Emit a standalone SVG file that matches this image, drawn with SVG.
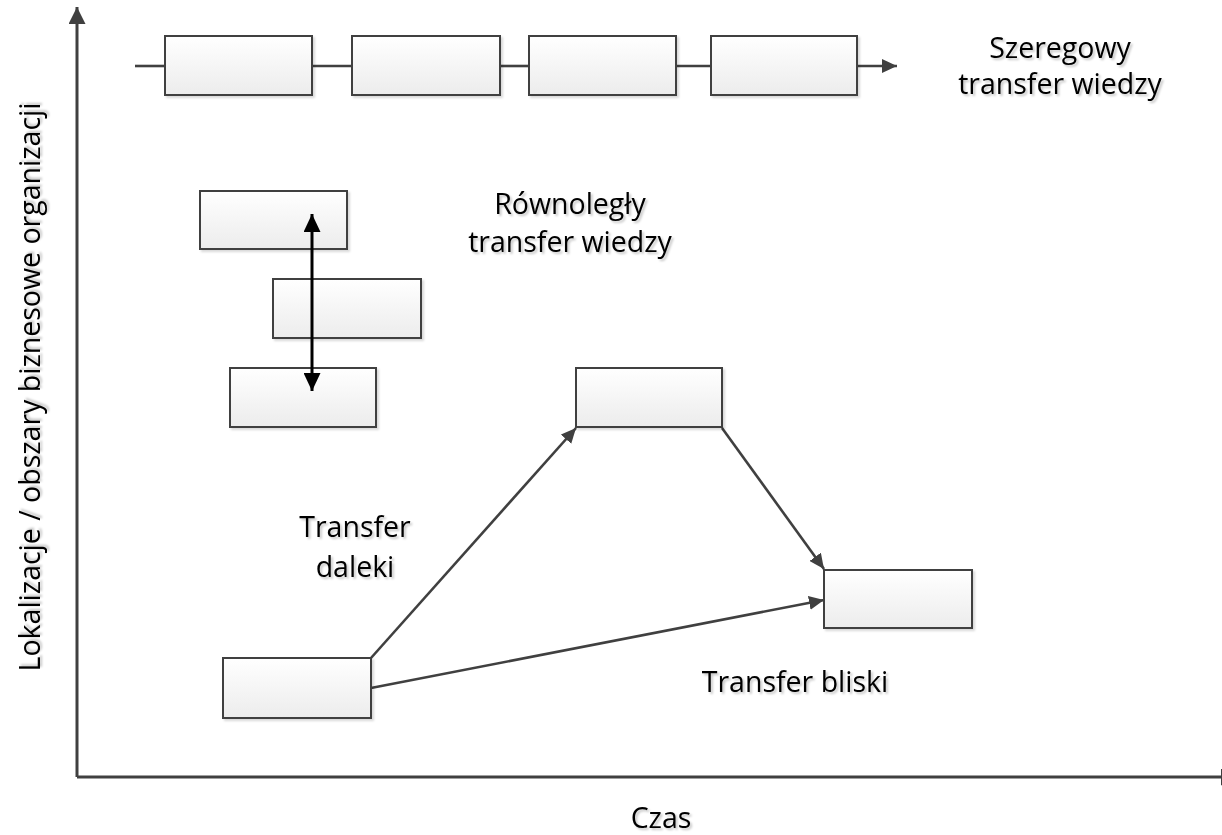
<svg xmlns="http://www.w3.org/2000/svg" width="1222" height="835" viewBox="0 0 1222 835">
  <defs>
    <linearGradient id="boxFill" x1="0" y1="0" x2="0" y2="1">
      <stop offset="0" stop-color="#ffffff"/>
      <stop offset="1" stop-color="#ececec"/>
    </linearGradient>
    <filter id="shadow" x="-10%" y="-10%" width="130%" height="140%">
      <feDropShadow dx="2" dy="2" stdDeviation="1" flood-color="#000" flood-opacity="0.15"/>
    </filter>
    <filter id="textShadow" x="-5%" y="-10%" width="115%" height="130%">
      <feDropShadow dx="2" dy="2" stdDeviation="1" flood-color="#000" flood-opacity="0.22"/>
    </filter>
    <marker id="arrowGrey" markerUnits="userSpaceOnUse" markerWidth="16" markerHeight="14" refX="15" refY="7" orient="auto">
      <path d="M0,0 L15,7 L0,14 Z" fill="#404040"/>
    </marker>
    <marker id="arrowAxis" markerUnits="userSpaceOnUse" markerWidth="18" markerHeight="18" refX="17" refY="8.5" orient="auto">
      <path d="M0,0 L17,8.5 L0,17 Z" fill="#404040"/>
    </marker>
    <marker id="arrowBlack" markerUnits="userSpaceOnUse" markerWidth="19" markerHeight="17" refX="18" refY="8.5" orient="auto-start-reverse">
      <path d="M0,0 L18,8.5 L0,17 Z" fill="#000"/>
    </marker>
  </defs>
  <style>
    .box { fill: url(#boxFill); stroke: #404040; stroke-width: 2; filter: url(#shadow); }
    .conn { fill: none; stroke: #404040; stroke-width: 2.6; }
    .axis { fill: none; stroke: #404040; stroke-width: 3; }
    .label { font-family: "Open Sans", "Liberation Sans", sans-serif; font-size: 28.5px; fill: #000; text-anchor: middle; filter: url(#textShadow); }
  </style>

  <rect width="1222" height="835" fill="#ffffff"/>

  <!-- axes -->
  <g id="axes">
    <line class="axis" x1="77" y1="777" x2="77" y2="7" marker-end="url(#arrowAxis)"/>
    <line class="axis" x1="77" y1="777" x2="1238" y2="777" marker-end="url(#arrowAxis)"/>
  </g>

  <!-- connectors -->
  <g id="connectors">
    <line class="conn" x1="135" y1="66" x2="165" y2="66"/>
    <line class="conn" x1="312" y1="66" x2="352" y2="66"/>
    <line class="conn" x1="500" y1="66" x2="529" y2="66"/>
    <line class="conn" x1="676" y1="66" x2="711" y2="66"/>
    <line class="conn" x1="857" y1="66" x2="897" y2="66" marker-end="url(#arrowGrey)"/>
    <line class="conn" x1="371" y1="658" x2="576" y2="428" marker-end="url(#arrowGrey)"/>
    <line class="conn" x1="722" y1="428" x2="824" y2="569" marker-end="url(#arrowGrey)"/>
    <line class="conn" x1="371" y1="688" x2="824" y2="600" marker-end="url(#arrowGrey)"/>
  </g>

  <!-- serial chain -->
  <g id="serial-1"><rect class="box" x="165" y="36" width="147" height="59"/></g>
  <g id="serial-2"><rect class="box" x="352" y="36" width="148" height="59"/></g>
  <g id="serial-3"><rect class="box" x="529" y="36" width="147" height="59"/></g>
  <g id="serial-4"><rect class="box" x="711" y="36" width="146" height="59"/></g>

  <!-- parallel stack -->
  <g id="parallel-1"><rect class="box" x="200" y="191" width="147" height="58"/></g>
  <g id="parallel-2"><rect class="box" x="273" y="279" width="148" height="59"/></g>
  <g id="parallel-3"><rect class="box" x="230" y="368" width="146" height="59"/></g>
  <g id="parallel-link">
    <line x1="312" y1="214" x2="312" y2="391" stroke="#000" stroke-width="3" marker-start="url(#arrowBlack)" marker-end="url(#arrowBlack)"/>
  </g>

  <!-- near / far transfer -->
  <g id="far-target"><rect class="box" x="576" y="368" width="146" height="59"/></g>
  <g id="near-target"><rect class="box" x="824" y="570" width="148" height="58"/></g>
  <g id="source"><rect class="box" x="223" y="658" width="148" height="60"/></g>

  <!-- labels -->
  <g id="labels">
    <text class="label" x="1060" y="58">Szeregowy</text>
    <text class="label" x="1060" y="94">transfer wiedzy</text>
    <text class="label" x="570" y="214">Równoległy</text>
    <text class="label" x="570" y="252">transfer wiedzy</text>
    <text class="label" x="355" y="537">Transfer</text>
    <text class="label" x="355" y="577">daleki</text>
    <text class="label" x="795" y="692">Transfer bliski</text>
    <text class="label" x="661" y="828">Czas</text>
    <text class="label" transform="translate(40,387) rotate(-90)" x="0" y="0">Lokalizacje / obszary biznesowe organizacji</text>
  </g>
</svg>
